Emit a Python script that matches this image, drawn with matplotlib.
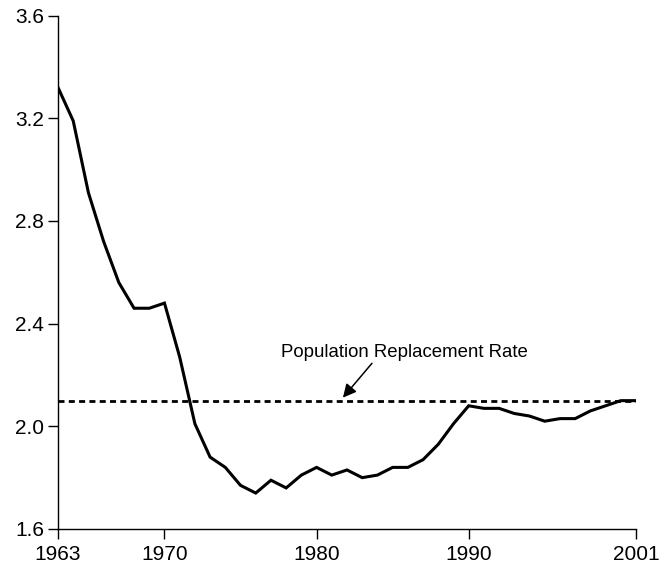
import matplotlib
matplotlib.use("Agg")
import matplotlib.pyplot as plt

plt.rcParams['font.family'] = ['Liberation Sans', 'DejaVu Sans']

years = list(range(1963, 2002))
fertility = [3.32, 3.19, 2.91, 2.72, 2.56, 2.46, 2.46, 2.48, 2.27, 2.01,
             1.88, 1.84, 1.77, 1.74, 1.79, 1.76, 1.81, 1.84, 1.81, 1.83,
             1.80, 1.81, 1.84, 1.84, 1.87, 1.93, 2.01, 2.08, 2.07, 2.07,
             2.05, 2.04, 2.02, 2.03, 2.03, 2.06, 2.08, 2.10, 2.10]
replacement_rate = 2.1
xticks = [1963, 1970, 1980, 1990, 2001]
yticks = [1.6, 2.0, 2.4, 2.8, 3.2, 3.6]
label = "Population Replacement Rate"

fig = plt.figure(figsize=(6.64, 5.68), dpi=100)
ax = fig.add_axes([58/664, 1-529/568, (636-58)/664, (529-15.6)/568])

ax.plot(years, fertility, color='black', lw=2.2, solid_joinstyle='miter')
ax.plot([years[0], years[-1]], [replacement_rate, replacement_rate],
        color='black', lw=2.0, linestyle=(0, (2.16, 1.55)))

ax.text(1985.8, 2.286, label, ha='center', va='center', fontsize=13.4)
ax.annotate("", xy=(1981.73, 2.1115), xytext=(1983.64, 2.2455),
            arrowprops=dict(arrowstyle='-|>,head_length=0.5,head_width=0.25',
                            color='black', lw=1.1,
                            shrinkA=0, shrinkB=0, mutation_scale=16))

ax.set_xlim(1963, 2001)
ax.set_ylim(1.6, 3.6)
ax.set_xticks(xticks)
ax.set_xticklabels([str(x) for x in xticks])
ax.set_yticks(yticks)
ax.set_yticklabels([f"{y:.1f}" for y in yticks])
for s in ['top', 'right']:
    ax.spines[s].set_visible(False)
for s in ['left', 'bottom']:
    ax.spines[s].set_linewidth(1.0)
ax.tick_params(axis='both', direction='out', length=7, width=1.0,
               labelsize=15)
ax.tick_params(axis='x', pad=4.5)
ax.tick_params(axis='y', pad=3)

fig.savefig("out.png", dpi=100)
